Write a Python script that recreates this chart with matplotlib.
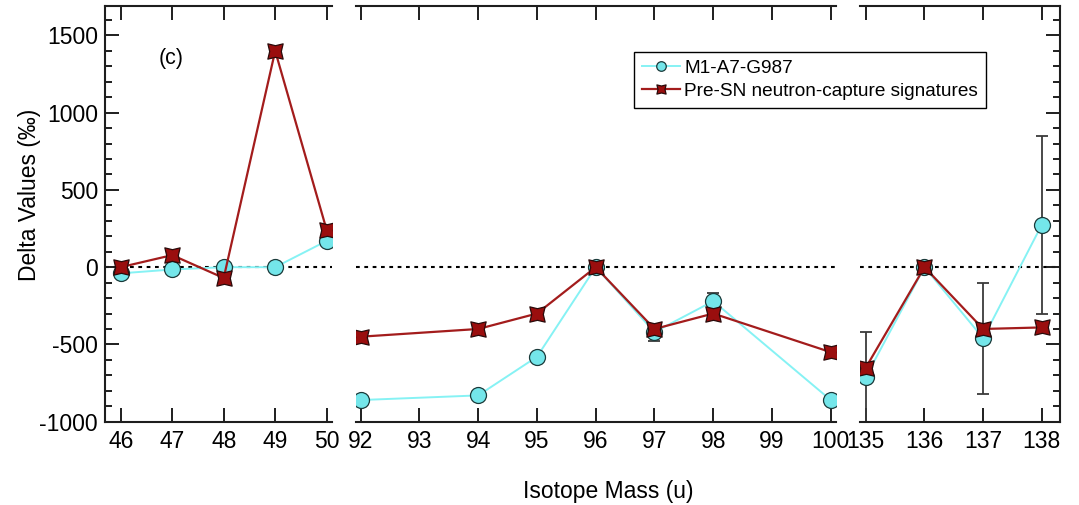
import matplotlib.pyplot as plt
from matplotlib.path import Path
from matplotlib.ticker import MultipleLocator

plt.rcParams['font.family'] = ['Liberation Sans', 'DejaVu Sans']
plt.rcParams['axes.unicode_minus'] = False

# isotope masses per element block (Ti, Mo, Ba)
mass_ti = [46, 47, 48, 49, 50]
mass_mo = [92, 94, 95, 96, 97, 98, 100]
mass_ba = [135, 136, 137, 138]

ticks_ti = [46, 47, 48, 49, 50]
ticks_mo = [92, 93, 94, 95, 96, 97, 98, 99, 100]
ticks_ba = [135, 136, 137, 138]

# grain M1-A7-G987 delta values and 2-sigma errors (permil)
grain_ti = [-40, -15, 0, 0, 170]
grain_ti_err = [0, 0, 0, 0, 30]
grain_mo = [-860, -830, -580, 0, -420, -220, -860]
grain_mo_err = [0, 0, 0, 0, 55, 50, 0]
grain_ba = [-710, 0, -460, 275]
grain_ba_err = [290, 0, 360, 575]

# pre-SN neutron-capture model
model_ti = [0, 78, -70, 1400, 240]
model_mo = [-450, -400, -300, 0, -400, -300, -550]
model_ba = [-650, 0, -400, -390]

# square with pinched sides for the model points
star4 = Path([(-1, -1), (0, -0.76), (1, -1), (0.76, 0), (1, 1), (0, 0.76),
              (-1, 1), (-0.76, 0), (-1, -1)],
             [Path.MOVETO] + [Path.LINETO] * 7 + [Path.CLOSEPOLY])

cyan_line = '#86F2F4'
cyan_face = '#74E6EA'
red_line = '#A31C1C'
red_face = '#9A0E0E'
ink = '#1E1E1E'

fig = plt.figure(figsize=(10.79, 5.05), dpi=100)
bottom, height = 0.165, 0.823
ax1 = fig.add_axes([0.0973, bottom, 0.2101, height])
ax2 = fig.add_axes([0.3297, bottom, 0.4451, height])
ax3 = fig.add_axes([0.7970, bottom, 0.1854, height])

panels = [
    (ax1, mass_ti, grain_ti, grain_ti_err, model_ti, ticks_ti, (45.695, 50.097)),
    (ax2, mass_mo, grain_mo, grain_mo_err, model_mo, ticks_mo, (91.915, 100.09)),
    (ax3, mass_ba, grain_ba, grain_ba_err, model_ba, ticks_ba, (134.90, 138.31)),
]

for ax, m, g, gerr, mod, ticks, xlim in panels:
    ax.axhline(0, color='black', lw=1.5, ls=(0, (1.8, 2.2)), zorder=1)
    ax.errorbar(m, g, yerr=gerr, fmt='none', ecolor='#3A3A3A', elinewidth=1.3,
                capsize=4, capthick=1.3, zorder=2)
    ax.plot(m, g, color=cyan_line, lw=1.4, marker='o', ms=11.5,
            mfc=cyan_face, mec='#1A3A3A', mew=0.9, zorder=3,
            label='M1-A7-G987')
    ax.plot(m, mod, color=red_line, lw=1.6, marker=star4, ms=11,
            mfc=red_face, mec='#2A0A0A', mew=0.9, zorder=4,
            label='Pre-SN neutron-capture signatures')
    ax.set_xlim(*xlim)
    ax.set_ylim(-1000, 1690)
    ax.set_xticks(ticks)
    ax.set_xticklabels([str(t) for t in ticks])
    ax.yaxis.set_major_locator(MultipleLocator(500))
    ax.yaxis.set_minor_locator(MultipleLocator(100))
    ax.tick_params(axis='x', which='major', direction='in', length=10, width=1.4,
                   top=True, bottom=True, labelsize=16.5, pad=6, color=ink)
    ax.tick_params(axis='y', which='major', direction='in', length=10, width=1.4,
                   labelsize=16.5, pad=5, color=ink)
    ax.tick_params(axis='y', which='minor', direction='in', length=5, width=1.4,
                   color=ink)
    for side in ['top', 'bottom', 'left', 'right']:
        ax.spines[side].set_linewidth(1.5)
        ax.spines[side].set_color(ink)

ax1.spines['right'].set_visible(False)
ax1.tick_params(axis='y', which='both', right=False)

ax2.spines['left'].set_visible(False)
ax2.spines['right'].set_visible(False)
ax2.tick_params(axis='y', which='both', left=False, right=False, labelleft=False)

ax3.spines['left'].set_visible(False)
ax3.tick_params(axis='y', which='both', left=False, right=True, labelleft=False)

ax1.text(46.97, 1350, '(c)', fontsize=15.5, ha='center', va='center')

fig.text(0.027, 0.614, 'Delta Values (‰)', rotation=90, fontsize=16.5,
         ha='center', va='center')
fig.text(0.564, 0.026, 'Isotope Mass (u)', fontsize=16.5, ha='center', va='center')

handles, labels = ax1.get_legend_handles_labels()
leg = fig.legend(handles, labels, loc='upper left', bbox_to_anchor=(0.5876, 0.897),
                 fontsize=13.7, frameon=True, fancybox=False, framealpha=1,
                 edgecolor='black', markerscale=0.6, handlelength=2.0,
                 handletextpad=0.25, borderpad=0.4, labelspacing=0.3,
                 borderaxespad=0)
leg.get_frame().set_linewidth(1.0)

fig.savefig('out.png', dpi=100)
